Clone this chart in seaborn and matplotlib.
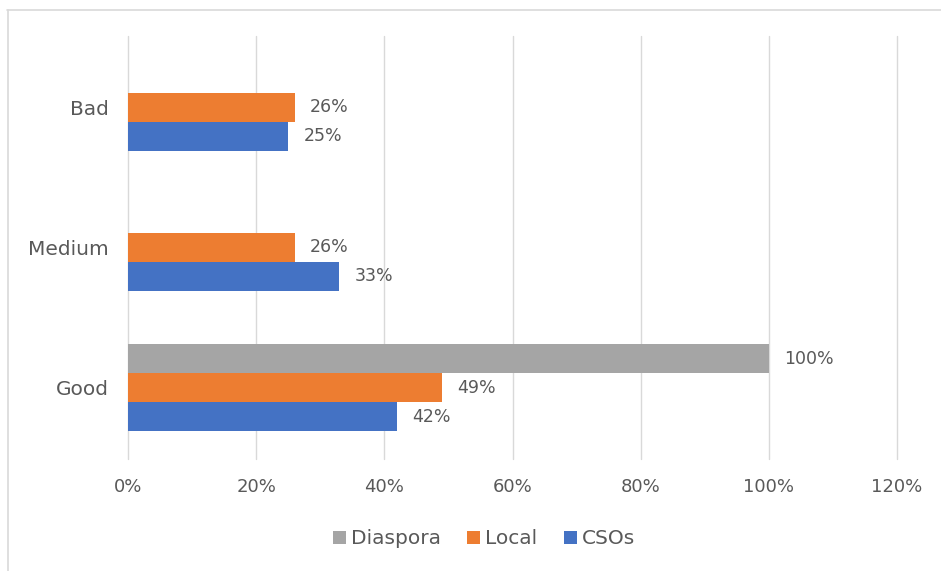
import matplotlib
matplotlib.use("Agg")
import matplotlib.pyplot as plt
import seaborn as sns
import pandas as pd
import numpy as np

categories = ["Bad", "Medium", "Good"]
series = ["Diaspora", "Local", "CSOs"]
diaspora = [np.nan, np.nan, 1.00]
local = [0.26, 0.26, 0.49]
csos = [0.25, 0.33, 0.42]
xticks = [0, 0.2, 0.4, 0.6, 0.8, 1.0, 1.2]
xtick_labels = ["0%", "20%", "40%", "60%", "80%", "100%", "120%"]
colors = {"Diaspora": "#A5A5A5", "Local": "#ED7D31", "CSOs": "#4472C4"}

rows = []
for s, vals in zip(series, [diaspora, local, csos]):
    for c, v in zip(categories, vals):
        rows.append({"category": c, "series": s, "value": v})
df = pd.DataFrame(rows)

sns.set_theme(style="white")
plt.rcParams["font.family"] = ["DejaVu Sans"]
text_color = "#595959"

fig = plt.figure(figsize=(9.41, 5.71), dpi=100)
ax = fig.add_axes([128/941, (571-459)/571, (897-128)/941, (459-36)/571])

sns.barplot(data=df.dropna(), y="category", x="value", hue="series",
            order=categories, hue_order=series, palette=colors,
            orient="h", width=0.62, ax=ax, saturation=1, legend=True,
            edgecolor="none", linewidth=0, zorder=3)

for cont in ax.containers:
    ax.bar_label(cont, fmt=lambda v: f"{v:.0%}", padding=11,
                 fontsize=12.5, color=text_color)

ax.set_xlim(0, 1.2)
ax.set_ylim(2.51, -0.51)
ax.set_xticks(xticks)
ax.set_xticklabels(xtick_labels)
ax.xaxis.grid(True, color="#D9D9D9", linewidth=1, zorder=0)
ax.set_axisbelow(True)
for gl in ax.get_xgridlines():
    gl.set_clip_on(False)
for sp in ax.spines.values():
    sp.set_visible(False)
ax.tick_params(axis="x", length=0, labelsize=13, colors=text_color, pad=14)
ax.tick_params(axis="y", length=0, labelsize=14.5, colors=text_color, pad=14)
ax.set_xlabel("")
ax.set_ylabel("")

handles, labels = ax.get_legend_handles_labels()
ax.legend(handles, labels, loc="center",
          bbox_to_anchor=(484/941, (571-539)/571),
          bbox_transform=fig.transFigure, ncol=3, frameon=False,
          handlelength=0.65, handleheight=0.65, handletextpad=0.25,
          columnspacing=1.3, fontsize=14.5, labelcolor=text_color)

# figure border (top and left edges only visible)
fig.add_artist(plt.Line2D([7/941, 1.0], [1-9.5/571, 1-9.5/571],
                          transform=fig.transFigure, color="#D9D9D9", lw=1.2))
fig.add_artist(plt.Line2D([7.5/941, 7.5/941], [0, 1-9.5/571],
                          transform=fig.transFigure, color="#D9D9D9", lw=1.2))

fig.savefig("out.png", dpi=100)
